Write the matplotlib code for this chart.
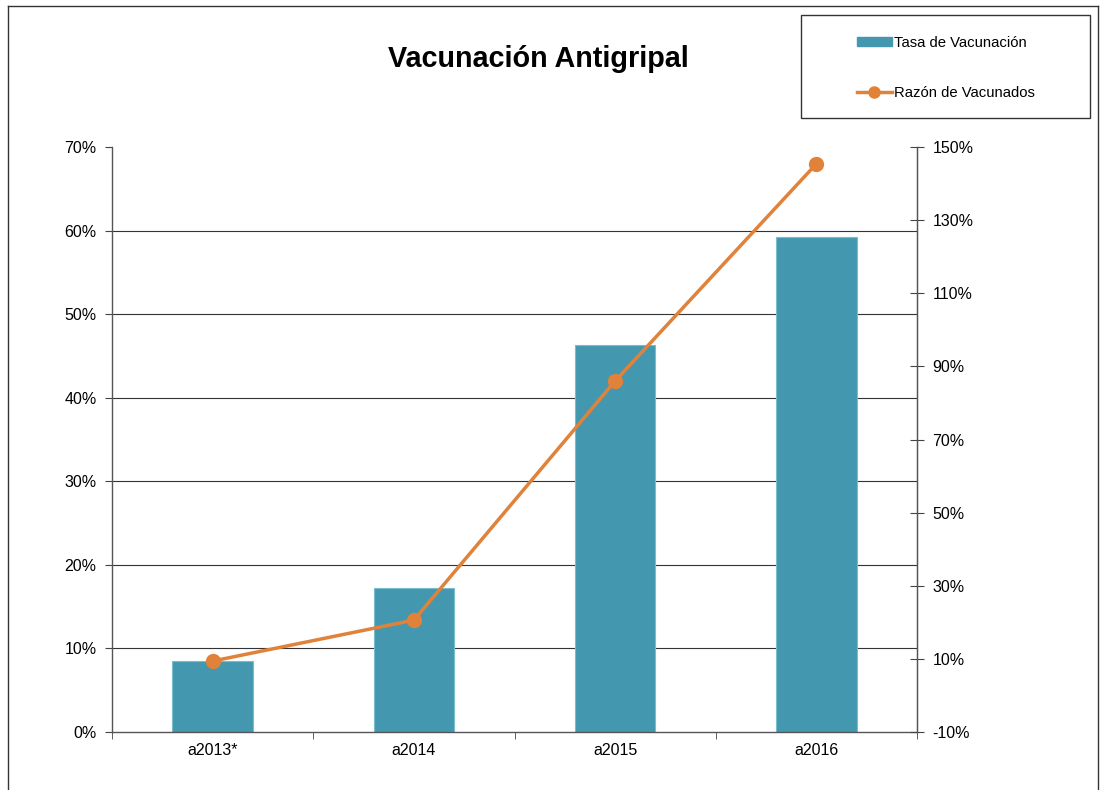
import numpy as np
import matplotlib.pyplot as plt
import matplotlib
from matplotlib.patches import Rectangle
from matplotlib.lines import Line2D
from matplotlib.ticker import FuncFormatter

matplotlib.rcParams['font.family'] = ['Liberation Sans', 'DejaVu Sans']
matplotlib.rcParams['font.size'] = 11.5

categorias = ['a2013*', 'a2014', 'a2015', 'a2016']
tasa = [8.5, 17.2, 46.3, 59.2]
razon = [9.4, 20.6, 86.0, 145.4]

bar_color = '#4398B0'
line_color = '#E0823A'

fig = plt.figure(figsize=(11.06, 7.9), dpi=100)
ax = fig.add_axes([112/1106, 1-732/790, (917-112)/1106, (732-147)/790])

x = np.arange(len(categorias))
ax.bar(x, tasa, width=0.4, color=bar_color, edgecolor='#78BCCE', lw=0.8, zorder=2)
ax.set_xlim(-0.5, 3.5)
ax.set_ylim(0, 70)
ax.set_yticks(np.arange(0, 71, 10))
ax.yaxis.set_major_formatter(FuncFormatter(lambda v, p: f'{v:.0f}%'))
ax.set_xticks(x)
ax.set_xticklabels(categorias)
ax.set_xticks(np.arange(-0.5, 3.6, 1), minor=True)
ax.tick_params(axis='x', which='major', length=0, pad=8)
ax.tick_params(axis='x', which='minor', length=5, direction='out', color='#444444')
ax.tick_params(axis='y', length=5, direction='out', color='#444444', pad=6)
for v in range(10, 70, 10):
    ax.axhline(v, color='#333333', lw=0.8, zorder=1)
ax.spines['top'].set_visible(False)
for s in ['left', 'bottom', 'right']:
    ax.spines[s].set_color('#555555')
    ax.spines[s].set_linewidth(1)

ax2 = ax.twinx()
ax2.plot(x, razon, color=line_color, lw=2.5, marker='o', markersize=10, zorder=3)
ax2.set_ylim(-10, 150)
ax2.set_yticks(np.arange(-10, 151, 20))
ax2.yaxis.set_major_formatter(FuncFormatter(lambda v, p: f'{v:.0f}%'))
ax2.tick_params(axis='y', length=10, direction='inout', color='#444444', pad=6)
for s in ['top', 'left', 'bottom']:
    ax2.spines[s].set_visible(False)
ax2.spines['right'].set_color('#555555')

fig.text(0.487, 0.925, 'Vacunación Antigripal', ha='center', va='center',
         fontsize=20.7, fontweight='bold')

# legend
leg_box = Rectangle((801/1106, 1-118/790), (1090-801)/1106, (118-15)/790,
                    transform=fig.transFigure, fill=False, edgecolor='#333333', lw=1)
fig.patches.append(leg_box)
handles = [Rectangle((0, 0), 1, 1, color=bar_color),
           Line2D([0], [0], color=line_color, lw=2.5, marker='o', markersize=8)]
leg = fig.legend(handles, ['Tasa de Vacunación', 'Razón de Vacunados'],
                 loc='center', bbox_to_anchor=(946/1106, 1-68/790), frameon=False,
                 labelspacing=2.45, handlelength=2.3, handleheight=0.5,
                 handletextpad=0.15, fontsize=10.7)

# outer frame
for coords in [([8, 1098], [6, 6]), ([8, 8], [6, 790]), ([1098, 1098], [6, 790])]:
    fig.lines.append(Line2D([c/1106 for c in coords[0]], [1-c/790 for c in coords[1]],
                            transform=fig.transFigure, color='#333333', lw=1))

fig.savefig('out.png', dpi=100)
